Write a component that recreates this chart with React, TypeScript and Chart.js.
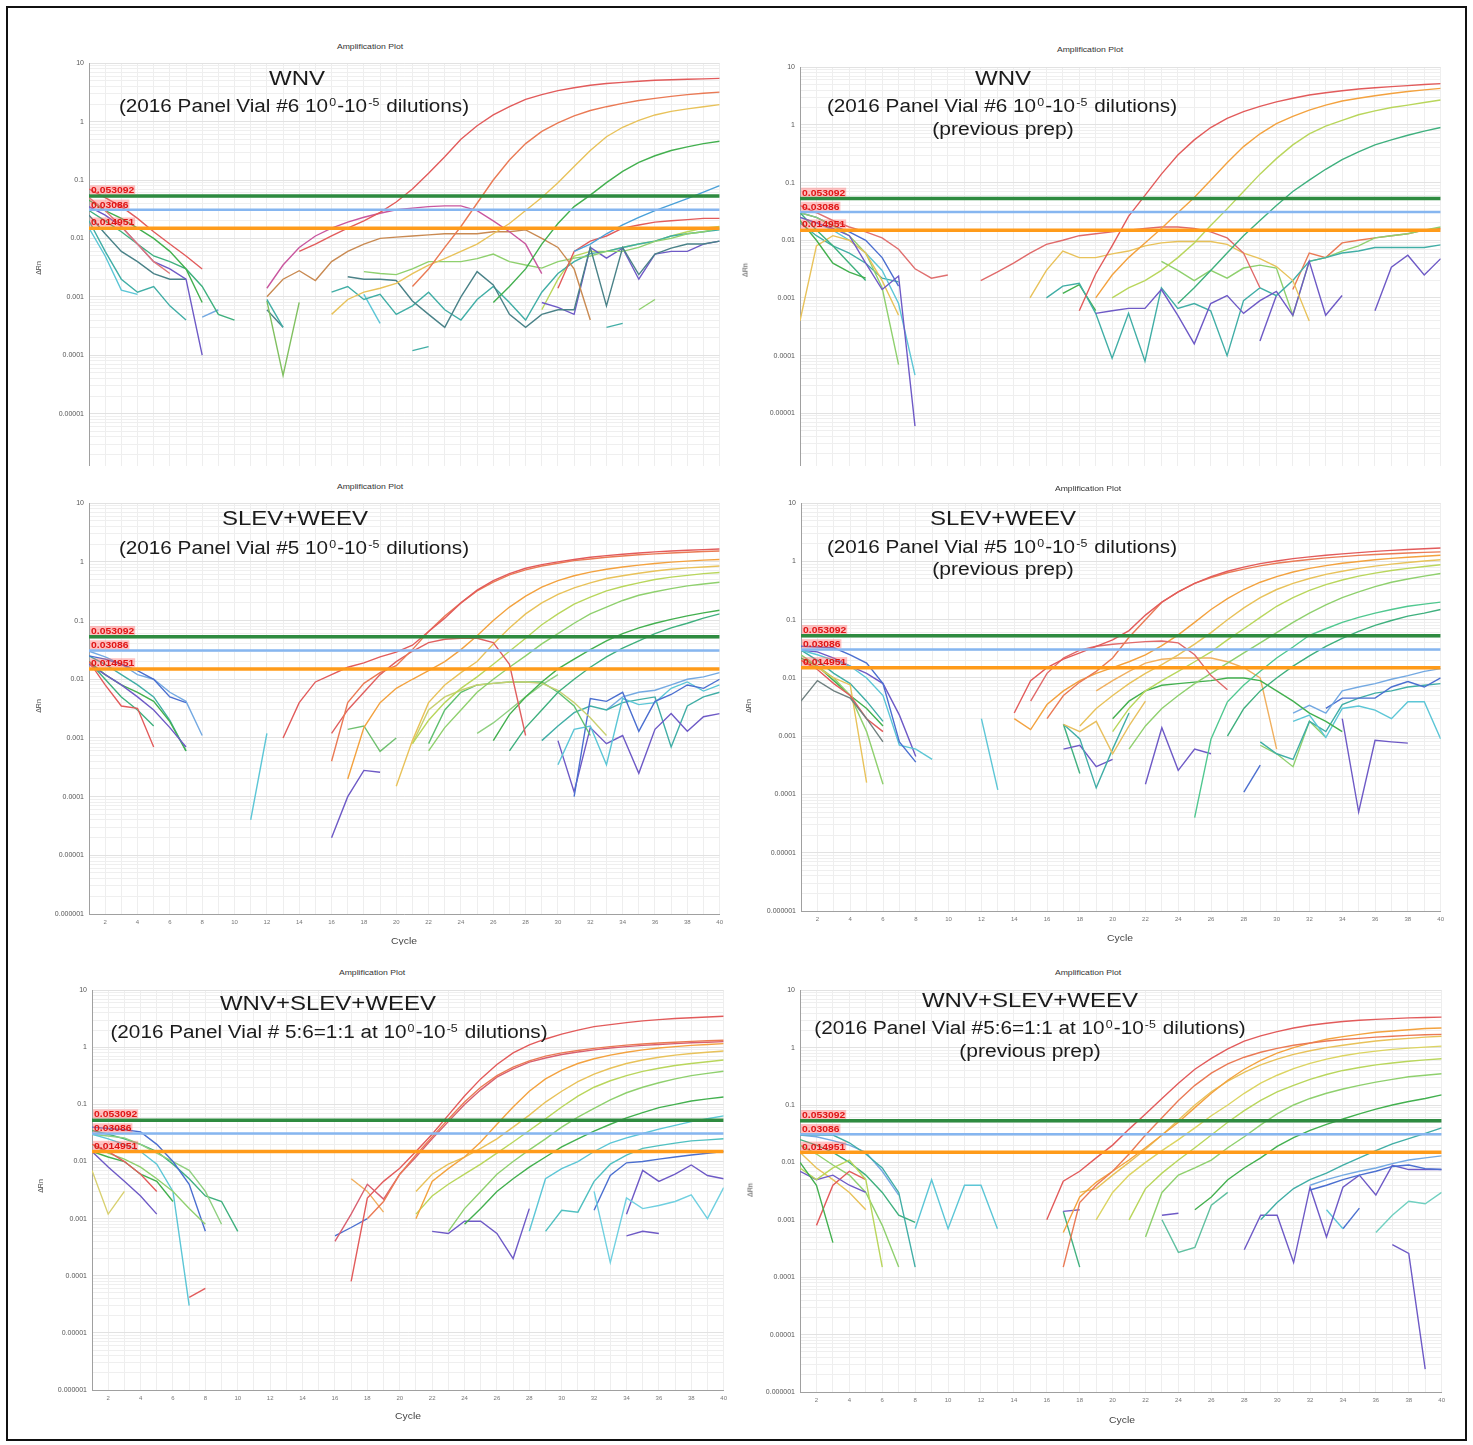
import React, { useEffect, useRef } from 'react';
import { Chart, registerables } from 'chart.js';

Chart.register(...registerables);

const FONT = '"Liberation Sans", Arial, Helvetica, sans-serif';
Chart.defaults.font.family = FONT;

// ---------- axis data ----------
const CYCLE_MIN = 1;
const CYCLE_MAX = 40;
const X_TICK_LABELS = [2, 4, 6, 8, 10, 12, 14, 16, 18, 20, 22, 24, 26, 28, 30, 32, 34, 36, 38, 40];
const Y_TICK_VALUES = [10, 1, 0.1, 0.01, 0.001, 0.0001, 0.00001, 0.000001];
const Y_TICK_LABELS = ['10', '1', '0.1', '0.01', '0.001', '0.0001', '0.00001', '0.000001'];
const THRESHOLDS = [0.053092, 0.03086, 0.014951];
const THRESHOLD_LABELS = ['0.053092', '0.03086', '0.014951'];

// ---------- text ----------
const PLOT_TITLE = 'Amplification Plot';
const PANEL_TITLES = ['WNV', 'WNV', 'SLEV+WEEV', 'SLEV+WEEV', 'WNV+SLEV+WEEV', 'WNV+SLEV+WEEV'];
const PANEL_SUB_PREFIX = [
  '(2016 Panel Vial #6 10',
  '(2016 Panel Vial #6 10',
  '(2016 Panel Vial #5 10',
  '(2016 Panel Vial #5 10',
  '(2016 Panel Vial # 5:6=1:1 at 10',
  '(2016 Panel Vial #5:6=1:1 at 10',
];
const PANEL_PREV = [false, true, false, true, false, true];

// ---------- colours (style) ----------
const RED = '#e25b5b', RED2 = '#ea7a55', PINK = '#c9579f', ORANGE = '#f3a23f', GOLD = '#e8c25a',
  YEL = '#dcd462', YG = '#b9d65c', LG = '#8fd06e', GRN = '#43b04f', SEA = '#3fb07e', TEAL = '#41aea6',
  CYAN = '#5cc6d6', LBLUE = '#74a9e2', BLUE = '#4b6fd0', PURP = '#6e5ac6', SLATE = '#4a8288', BROWN = '#c98a52';
const TH_COLORS = ['#2e8b40', '#86b6f0', '#ff9b1a'];
const TH_WIDTHS = [3.5, 2.5, 3.5];

// ---------- panel 1 : WNV ----------
const P1_STARTS = [14, 21, 16, 26, 31, 12, 12, 30, 17, 18, 29, 16, 29, 1, 1, 1, 1, 1, 1, 1, 1, 12, 12, 12, 21, 18, 35, 33, 8];
const P1_VALUES: (number | null)[][] = [
  [0.006, 0.008, 0.011, 0.015, 0.02, 0.028, 0.042, 0.07, 0.13, 0.25, 0.5, 0.85, 1.3, 1.8, 2.4, 2.9, 3.4, 3.8, 4.2, 4.5, 4.7, 4.9, 5.1, 5.2, 5.3, 5.4, 5.5],
  [0.0015, 0.003, 0.007, 0.016, 0.04, 0.1, 0.22, 0.42, 0.68, 0.95, 1.25, 1.55, 1.8, 2.05, 2.3, 2.5, 2.7, 2.9, 3.05, 3.2],
  [0.0005, 0.0009, 0.0012, 0.0014, 0.0017, 0.0025, 0.0035, 0.0045, 0.006, 0.008, 0.012, 0.018, 0.03, 0.05, 0.09, 0.17, 0.32, 0.55, 0.8, 1.05, 1.3, 1.5, 1.65, 1.8, 1.95],
  [0.0008, 0.0015, 0.003, 0.008, 0.018, 0.035, 0.055, 0.09, 0.14, 0.2, 0.26, 0.32, 0.37, 0.42, 0.46],
  [0.006, 0.008, 0.012, 0.017, 0.023, 0.03, 0.038, 0.048, 0.062, 0.08],
  [0.0014, 0.0035, 0.007, 0.011, 0.015, 0.019, 0.023, 0.027, 0.031, 0.033, 0.035, 0.036, 0.036, 0.03, 0.02, 0.013, 0.008, 0.0025],
  [0.001, 0.002, 0.0028, 0.0019, 0.004, 0.006, 0.008, 0.01, 0.0105, 0.011, 0.0115, 0.012, 0.012, 0.012, 0.013, 0.013, 0.014, 0.01, 0.007, 0.003, 0.0004],
  [0.0014, 0.006, 0.009, 0.011, 0.015, 0.017, 0.019, 0.02, 0.021, 0.022, 0.022],
  [0.0022, 0.002, 0.002, 0.0019, 0.00085, 0.0005, 0.0003, 0.001, 0.0027, 0.0016, 0.0005, 0.0003, 0.0005, 0.0006, 0.0006, 0.007, 0.0007, 0.007, 0.0024, 0.0054, 0.0068, 0.008, 0.008, 0.009],
  [0.0027, 0.0025, 0.0024, 0.003, 0.004, 0.004, 0.004, 0.0045, 0.0054, 0.004, 0.0035, 0.0031, 0.004, 0.0046, 0.005, 0.006, 0.006, 0.007, 0.0089, 0.01, 0.012, 0.013, 0.015],
  [0.0008, 0.00066, 0.0005, 0.007, 0.0046, 0.0068, 0.002, 0.0054, 0.006, 0.006, 0.008, 0.009],
  [0.0012, 0.0015, 0.0009, 0.0011, 0.0005, 0.0007, 0.0012, 0.0006, 0.0004, 0.0009, 0.0015, 0.0008, 0.0004, 0.0012, 0.0025, 0.004, 0.0055, 0.006, 0.007, 0.008, 0.009, 0.011, 0.012, 0.013, 0.014],
  [0.0006, 0.002, 0.005, 0.006, 0.006, 0.007, 0.008, 0.009, 0.011, 0.013, 0.015, 0.016],
  [0.07, 0.05, 0.035, 0.022, 0.013, 0.008, 0.005, 0.003],
  [0.05, 0.03, 0.016, 0.008, 0.004, 0.0025],
  [0.035, 0.025, 0.016, 0.008, 0.004, 0.003, 0.002, 0.0001],
  [0.045, 0.03, 0.022, 0.015, 0.01, 0.006, 0.003, 0.0008],
  [0.02, 0.006, 0.002, 0.0012, 0.0015, 0.0007, 0.0004],
  [0.015, 0.005, 0.0013, 0.0011],
  [0.03, 0.02, 0.013, 0.008, 0.005, 0.004, 0.003, 0.0015, 0.0005, 0.0004],
  [0.025, 0.012, 0.006, 0.004, 0.0025, 0.002, 0.002],
  [0.0009, 0.0003],
  [0.00085, 0.000045, 0.0008],
  [0.0006, 0.0003],
  [0.00012, 0.00014],
  [0.0011, 0.00035],
  [0.0006, 0.0009],
  [0.0003, 0.00035],
  [0.00045, 0.0006],
];
const P1_COLORS = [RED, RED2, GOLD, GRN, '#4aa0d8', PINK, BROWN, RED, SLATE, LG, PURP, TEAL, YG, RED, '#e07878', PURP, GRN, TEAL, CYAN, SEA, SLATE, TEAL, '#80c060', SLATE, TEAL, CYAN, LG, TEAL, LBLUE];

// ---------- panel 2 : WNV previous prep ----------
const P2_STARTS = [18, 19, 20, 24, 12, 15, 19, 16, 23, 31, 1, 1, 1, 1, 1, 1, 1, 1, 1, 17, 29];
const P2_VALUES: (number | null)[][] = [
  [0.0006, 0.0026, 0.008, 0.026, 0.06, 0.14, 0.3, 0.55, 0.9, 1.3, 1.7, 2.1, 2.5, 2.9, 3.3, 3.6, 3.9, 4.2, 4.4, 4.6, 4.8, 5.0, 5.2],
  [0.001, 0.0025, 0.005, 0.009, 0.016, 0.03, 0.055, 0.11, 0.22, 0.42, 0.7, 1.05, 1.4, 1.8, 2.2, 2.6, 2.9, 3.2, 3.5, 3.8, 4.05, 4.3],
  [0.001, 0.0015, 0.002, 0.003, 0.005, 0.009, 0.018, 0.035, 0.07, 0.14, 0.26, 0.45, 0.7, 0.95, 1.2, 1.5, 1.75, 2.0, 2.2, 2.45, 2.7],
  [0.0008, 0.0015, 0.003, 0.006, 0.012, 0.022, 0.04, 0.07, 0.11, 0.17, 0.25, 0.34, 0.45, 0.55, 0.66, 0.78, 0.9],
  [0.002, 0.0028, 0.004, 0.006, 0.0085, 0.01, 0.012, 0.013, 0.014, 0.015, 0.016, 0.017, 0.017, 0.016, 0.014, 0.011, 0.006, 0.0015],
  [0.001, 0.003, 0.0065, 0.005, 0.005, 0.0058, 0.0065, 0.008, 0.009, 0.0095, 0.0095, 0.0095, 0.0085, 0.006, 0.0048, 0.0035, 0.002, 0.0004],
  [0.00054, 0.0006, 0.00066, 0.00066, 0.0014, 0.0005, 0.00016, 0.0008, 0.0011, 0.00054, 0.0009, 0.0013, 0.0005, 0.0043, 0.0005, 0.0011, null, 0.0006, 0.0034, 0.0055, 0.0025, 0.0048],
  [0.001, 0.0016, 0.0018, 0.00054, 0.00009, 0.00054, 0.00008, 0.0015, 0.00066, 0.0008, 0.0006, 0.0001, 0.0009, 0.0015, 0.0011, 0.002, 0.0043, 0.005, 0.006, 0.0065, 0.0075, 0.0075, 0.0075, 0.0075, 0.0083],
  [0.0043, 0.003, 0.002, 0.003, 0.0022, 0.0033, 0.0037, 0.0033, 0.0005, 0.0043, 0.005, 0.0065, 0.008, 0.011, 0.012, 0.013, 0.015, 0.017],
  [0.0014, 0.006, 0.005, 0.009, 0.01, 0.011, 0.012, 0.013, 0.015, 0.016],
  [0.04, 0.03, 0.022, 0.017, 0.014, 0.011, 0.007, 0.0032, 0.0022, 0.0025],
  [0.025, 0.02, 0.016, 0.012, 0.004, 0.0014, 0.0024, 0.000006],
  [0.022, 0.01, 0.004, 0.0028, 0.0022],
  [0.03, 0.015, 0.008, 0.004, 0.002],
  [0.0004, 0.008, 0.012, 0.01, 0.006, 0.002, 0.0005],
  [0.03, 0.025, 0.018, 0.012, 0.006, 0.0015, 0.00007],
  [0.025, 0.02, 0.015, 0.01, 0.006, 0.003, 0.0008, 0.000046],
  [0.03, 0.025, 0.018, 0.014, 0.01, 0.005, 0.0016],
  [0.02, 0.012, 0.008, 0.006, 0.004, 0.0022, 0.0019],
  [0.0012, 0.0017, 0.0006],
  [0.00018, 0.0011],
];
const P2_COLORS = [RED, ORANGE, YG, SEA, '#e06a6a', GOLD, PURP, TEAL, LG, RED2, '#e07070', PURP, GRN, SEA, GOLD, LG, CYAN, BLUE, TEAL, GRN, PURP];

// ---------- panel 3 : SLEV+WEEV ----------
const P3_STARTS = [13, 16, 16, 17, 20, 21, 22, 26, 27, 21, 22, 11, 16, 17, 31, 30, 30, 29, 33, 1, 1, 1, 1, 1, 1, 1, 25];
const P3_VALUES: (number | null)[][] = [
  [0.001, 0.004, 0.009, 0.012, 0.016, 0.019, 0.024, 0.029, 0.038, 0.065, 0.11, 0.2, 0.33, 0.48, 0.63, 0.78, 0.9, 1.0, 1.1, 1.2, 1.28, 1.35, 1.42, 1.48, 1.53, 1.58, 1.62, 1.66],
  [0.0004, 0.004, 0.0085, 0.013, 0.017, 0.032, 0.065, 0.12, 0.2, 0.32, 0.45, 0.6, 0.73, 0.85, 0.95, 1.05, 1.12, 1.2, 1.26, 1.32, 1.37, 1.42, 1.46, 1.5, 1.53],
  [0.0012, 0.003, 0.006, 0.012, 0.02, 0.03, 0.042, 0.048, 0.05, 0.05, 0.042, 0.018, 0.0011],
  [0.0002, 0.0015, 0.004, 0.007, 0.01, 0.014, 0.02, 0.032, 0.055, 0.1, 0.17, 0.26, 0.37, 0.48, 0.58, 0.67, 0.75, 0.82, 0.88, 0.94, 0.99, 1.03, 1.07, 1.1],
  [0.00015, 0.0009, 0.004, 0.008, 0.013, 0.02, 0.04, 0.075, 0.13, 0.2, 0.28, 0.36, 0.44, 0.52, 0.58, 0.64, 0.7, 0.75, 0.79, 0.82, 0.85],
  [0.0008, 0.002, 0.004, 0.007, 0.011, 0.018, 0.03, 0.05, 0.085, 0.13, 0.19, 0.25, 0.32, 0.38, 0.44, 0.5, 0.55, 0.59, 0.63, 0.66],
  [0.0006, 0.0015, 0.003, 0.006, 0.01, 0.016, 0.025, 0.04, 0.06, 0.09, 0.13, 0.17, 0.22, 0.27, 0.31, 0.35, 0.39, 0.42, 0.45],
  [0.0009, 0.0025, 0.005, 0.009, 0.015, 0.022, 0.032, 0.045, 0.06, 0.075, 0.09, 0.105, 0.12, 0.135, 0.15],
  [0.0006, 0.0015, 0.003, 0.006, 0.01, 0.016, 0.024, 0.034, 0.045, 0.06, 0.075, 0.09, 0.11, 0.13],
  [0.0008, 0.003, 0.005, 0.0065, 0.008, 0.0085, 0.009, 0.009, 0.0085, 0.0065, 0.004, 0.0022, 0.0011],
  [0.0008, 0.003, 0.006, 0.008, 0.0085, 0.009, 0.009, 0.009, 0.006, 0.0035, 0.0011],
  [0.00004, 0.0012],
  [0.00002, 0.0001, 0.00028, 0.00026],
  [0.0014, 0.0016, 0.00059, 0.001],
  [0.0001, 0.0047, 0.0042, 0.006, 0.0013, 0.0042, 0.0055, 0.008, 0.007, 0.01],
  [0.00035, 0.0014, 0.0016, 0.00035, 0.0047, 0.0037, 0.004, 0.007, 0.009, 0.0063, 0.008],
  [0.0009, 0.00012, 0.0015, 0.0008, 0.0011, 0.00025, 0.0014, 0.0026, 0.0013, 0.0023, 0.0026],
  [0.0009, 0.0016, 0.0027, 0.0035, 0.003, 0.004, 0.0045, 0.005, 0.0007, 0.0035, 0.005, 0.006],
  [0.003, 0.005, 0.006, 0.0065, 0.008, 0.01, 0.011, 0.013],
  [0.02, 0.008, 0.0035, 0.0032, 0.0007],
  [0.018, 0.012, 0.008, 0.005, 0.003, 0.0015, 0.0007],
  [0.025, 0.022, 0.018, 0.014, 0.01, 0.005, 0.004],
  [0.02, 0.012, 0.008, 0.006, 0.0042, 0.0019, 0.0006],
  [0.02, 0.01, 0.005, 0.003, 0.0016],
  [0.03, 0.024, 0.018, 0.012, 0.01, 0.006, 0.0042, 0.0011],
  [0.025, 0.018, 0.012, 0.008, 0.005, 0.002, 0.0006],
  [0.0012, 0.0018, 0.003, 0.005, 0.008, 0.012],
];
const P3_COLORS = [RED, RED2, '#e06060', ORANGE, GOLD, YG, LG, GRN, SEA, '#c8d070', '#60c070', CYAN, PURP, '#70c070', BLUE, CYAN, PURP, TEAL, LBLUE, RED, PURP, BLUE, GRN, SEA, LBLUE, TEAL, '#90d080'];

// ---------- panel 4 : SLEV+WEEV previous prep ----------
const P4_STARTS = [14, 16, 15, 14, 18, 20, 21, 25, 27, 20, 19, 17, 17, 22, 34, 28, 31, 33, 31, 29, 12, 1, 1, 1, 1, 1, 1, 1, 1, 1, 17, 17, 29];
const P4_VALUES: (number | null)[][] = [
  [0.0025, 0.009, 0.015, 0.021, 0.027, 0.035, 0.045, 0.065, 0.12, 0.2, 0.3, 0.42, 0.55, 0.68, 0.8, 0.92, 1.02, 1.12, 1.2, 1.28, 1.35, 1.42, 1.49, 1.55, 1.6, 1.65, 1.7],
  [0.002, 0.005, 0.0085, 0.013, 0.022, 0.05, 0.1, 0.2, 0.3, 0.42, 0.53, 0.64, 0.74, 0.84, 0.93, 1.01, 1.08, 1.15, 1.21, 1.27, 1.32, 1.36, 1.4, 1.43, 1.46],
  [0.004, 0.012, 0.022, 0.03, 0.035, 0.038, 0.04, 0.042, 0.043, 0.04, 0.025, 0.011, 0.0063],
  [0.002, 0.0013, 0.0035, 0.006, 0.009, 0.012, 0.015, 0.019, 0.025, 0.036, 0.055, 0.09, 0.15, 0.23, 0.33, 0.44, 0.55, 0.66, 0.76, 0.85, 0.93, 1.0, 1.07, 1.13, 1.18, 1.23, 1.28],
  [0.0015, 0.003, 0.005, 0.008, 0.012, 0.017, 0.025, 0.038, 0.06, 0.1, 0.16, 0.24, 0.33, 0.42, 0.51, 0.6, 0.68, 0.76, 0.83, 0.9, 0.96, 1.02, 1.07],
  [0.0012, 0.003, 0.006, 0.009, 0.013, 0.019, 0.028, 0.045, 0.07, 0.11, 0.17, 0.24, 0.32, 0.4, 0.48, 0.56, 0.63, 0.7, 0.76, 0.82, 0.88],
  [0.0006, 0.0015, 0.003, 0.005, 0.008, 0.012, 0.018, 0.027, 0.04, 0.06, 0.09, 0.13, 0.18, 0.24, 0.3, 0.37, 0.44, 0.5, 0.56, 0.62],
  [0.00004, 0.0009, 0.0039, 0.0076, 0.013, 0.022, 0.034, 0.054, 0.07, 0.09, 0.11, 0.13, 0.15, 0.17, 0.185, 0.2],
  [0.001, 0.003, 0.006, 0.01, 0.016, 0.024, 0.035, 0.048, 0.063, 0.08, 0.097, 0.115, 0.13, 0.15],
  [0.002, 0.004, 0.006, 0.0075, 0.008, 0.0085, 0.009, 0.01, 0.01, 0.009, 0.006, 0.004, 0.0025, 0.0018, 0.0012],
  [0.006, 0.009, 0.013, 0.018, 0.021, 0.022, 0.022, 0.022, 0.019, 0.015, 0.01, 0.0006],
  [0.0016, 0.0012, 0.0018, 0.0005, 0.0015, 0.004],
  [0.0016, 0.0009, 0.00013, 0.0006, 0.0025],
  [0.00015, 0.0014, 0.00026, 0.0006, 0.0005],
  [0.002, 0.00005, 0.00085, 0.0008, 0.00076],
  [0.00011, 0.00032],
  [0.0025, 0.0034, 0.0025, 0.006, 0.007, 0.008, 0.0095, 0.011, 0.013, 0.0145],
  [0.003, 0.0045, 0.0045, 0.0045, 0.007, 0.0087, 0.007, 0.01],
  [0.0018, 0.0023, 0.00095, 0.003, 0.0033, 0.0028, 0.002, 0.0039, 0.0039, 0.0009],
  [0.0008, 0.0005, 0.0004, 0.0018, 0.0012, 0.0035, 0.0045, 0.0055, 0.006, 0.007, 0.0075, 0.008],
  [0.002, 0.00012],
  [0.004, 0.009, 0.006, 0.0045, 0.002, 0.0008],
  [0.02, 0.014, 0.008, 0.005, 0.002, 0.0012],
  [0.02, 0.015, 0.01, 0.0076, 0.00016],
  [0.025, 0.016, 0.01, 0.005, 0.0012, 0.00015],
  [0.035, 0.034, 0.033, 0.025, 0.018, 0.008, 0.0008, 0.00036],
  [0.03, 0.025, 0.02, 0.016, 0.01, 0.005, 0.0007, 0.0006, 0.0004],
  [0.03, 0.028, 0.022, 0.016, 0.012, 0.008, 0.0023, 0.00045],
  [0.022, 0.016, 0.009, 0.005, 0.003, 0.0015],
  [0.03, 0.02, 0.012, 0.008, 0.004, 0.0018],
  [0.0006, 0.0007, 0.0003, 0.0004],
  [0.0016, 0.00023],
  [0.0007, 0.0005, 0.0003, 0.0018, 0.00095],
];
const P4_COLORS = [RED, RED2, '#e06a6a', ORANGE, GOLD, YG, LG, '#50c890', SEA, GRN, '#f0b060', '#e8c060', TEAL, PURP, PURP, BLUE, LBLUE, BLUE, CYAN, TEAL, CYAN, '#708080', RED, GOLD, LG, BLUE, CYAN, PURP, GRN, TEAL, PURP, SEA, LG];

// ---------- panel 5 : WNV+SLEV+WEEV ----------
const P5_STARTS = [17, 18, 16, 21, 21, 21, 23, 24, 28, 29, 32, 32, 34, 34, 22, 16, 17, 1, 1, 1, 1, 1, 1, 1, 1, 1, 7];
const P5_VALUES: (number | null)[][] = [
  [0.00008, 0.0023, 0.0045, 0.0076, 0.015, 0.03, 0.065, 0.14, 0.28, 0.5, 0.8, 1.1, 1.4, 1.7, 2.0, 2.3, 2.5, 2.7, 2.9, 3.05, 3.2, 3.3, 3.4, 3.5],
  [0.001, 0.002, 0.006, 0.013, 0.027, 0.055, 0.11, 0.2, 0.32, 0.45, 0.58, 0.7, 0.8, 0.88, 0.96, 1.03, 1.09, 1.14, 1.19, 1.23, 1.27, 1.3, 1.33],
  [0.0004, 0.0012, 0.004, 0.0022, 0.006, 0.012, 0.025, 0.05, 0.1, 0.18, 0.3, 0.42, 0.55, 0.65, 0.75, 0.83, 0.9, 0.97, 1.03, 1.08, 1.12, 1.16, 1.2, 1.23, 1.26],
  [0.001, 0.0045, 0.0075, 0.012, 0.022, 0.045, 0.09, 0.17, 0.28, 0.4, 0.52, 0.63, 0.73, 0.82, 0.9, 0.97, 1.03, 1.08, 1.12, 1.16],
  [0.003, 0.006, 0.009, 0.012, 0.017, 0.025, 0.04, 0.065, 0.11, 0.17, 0.25, 0.34, 0.43, 0.52, 0.6, 0.67, 0.73, 0.78, 0.82, 0.86],
  [0.0012, 0.0025, 0.004, 0.006, 0.009, 0.014, 0.022, 0.035, 0.056, 0.09, 0.14, 0.2, 0.26, 0.32, 0.38, 0.43, 0.48, 0.52, 0.56, 0.6],
  [0.0006, 0.0015, 0.003, 0.006, 0.01, 0.016, 0.025, 0.04, 0.06, 0.085, 0.12, 0.16, 0.2, 0.24, 0.28, 0.32, 0.35, 0.38],
  [0.0008, 0.0015, 0.003, 0.005, 0.008, 0.012, 0.018, 0.025, 0.034, 0.045, 0.058, 0.072, 0.088, 0.1, 0.115, 0.125, 0.135],
  [0.0006, 0.005, 0.0075, 0.01, 0.015, 0.021, 0.026, 0.031, 0.037, 0.043, 0.05, 0.056, 0.063],
  [0.0006, 0.0014, 0.0013, 0.0045, 0.009, 0.013, 0.017, 0.019, 0.021, 0.023, 0.024, 0.025],
  [0.003, 0.00017, 0.0023, 0.0015, 0.0017, 0.002, 0.0026, 0.001, 0.0035],
  [0.0014, 0.0057, 0.0095, 0.01, 0.011, 0.012, 0.013, 0.014, 0.015],
  [0.0012, 0.007, 0.0045, 0.006, 0.0087, 0.0057, 0.005],
  [0.0005, 0.0006, 0.00055],
  [0.0006, 0.00055, 0.0009, 0.0009, 0.00055, 0.0002, 0.0015],
  [0.0005, 0.0007, 0.001],
  [0.005, 0.003, 0.0013],
  [0.007, 0.0012, 0.003],
  [0.015, 0.008, 0.0045, 0.0025, 0.0012],
  [0.02, 0.015, 0.01, 0.006, 0.003],
  [0.015, 0.012, 0.01, 0.006, 0.0045, 0.002],
  [0.02, 0.014, 0.011, 0.008, 0.005, 0.003, 0.0015, 0.0008],
  [0.04, 0.038, 0.036, 0.033, 0.02, 0.01, 0.004, 0.0006],
  [0.03, 0.025, 0.02, 0.015, 0.009, 0.003, 0.00003],
  [0.03, 0.028, 0.026, 0.02, 0.014, 0.01, 0.007, 0.003, 0.0008],
  [0.035, 0.03, 0.025, 0.02, 0.015, 0.009, 0.005, 0.0025, 0.002, 0.0006],
  [0.000042, 0.00006],
];
const P5_COLORS = [RED, RED2, '#d86070', ORANGE, GOLD, YG, LG, GRN, CYAN, '#50c0c0', '#70d0e0', BLUE, PURP, PURP, PURP, BLUE, '#f0b060', '#d8d070', PURP, RED, GRN, LG, BLUE, CYAN, '#90d080', SEA, RED];

// ---------- panel 6 : WNV+SLEV+WEEV previous prep ----------
const P6_STARTS = [16, 17, 17, 18, 19, 21, 22, 25, 29, 36, 37, 32, 32, 28, 33, 34, 23, 17, 8, 23, 17, 1, 1, 1, 2, 1, 1, 1, 1, 1];
const P6_VALUES: (number | null)[][] = [
  [0.001, 0.0047, 0.007, 0.012, 0.02, 0.038, 0.07, 0.13, 0.24, 0.42, 0.65, 0.95, 1.3, 1.6, 1.9, 2.2, 2.45, 2.65, 2.85, 3.0, 3.1, 3.2, 3.3, 3.35, 3.4],
  [0.00015, 0.002, 0.004, 0.007, 0.014, 0.03, 0.06, 0.12, 0.22, 0.36, 0.52, 0.68, 0.83, 0.97, 1.1, 1.2, 1.3, 1.38, 1.45, 1.52, 1.58, 1.63, 1.67, 1.7],
  [0.0006, 0.0025, 0.0045, 0.007, 0.011, 0.018, 0.03, 0.05, 0.09, 0.16, 0.27, 0.42, 0.6, 0.8, 1.0, 1.2, 1.4, 1.55, 1.7, 1.85, 1.95, 2.05, 2.15, 2.2],
  [0.003, 0.0035, 0.006, 0.01, 0.017, 0.03, 0.055, 0.1, 0.17, 0.26, 0.37, 0.5, 0.63, 0.76, 0.88, 1.0, 1.1, 1.2, 1.3, 1.38, 1.45, 1.52, 1.58],
  [0.001, 0.003, 0.006, 0.01, 0.016, 0.025, 0.04, 0.065, 0.1, 0.16, 0.24, 0.33, 0.43, 0.53, 0.63, 0.72, 0.8, 0.87, 0.93, 0.98, 1.02, 1.06],
  [0.001, 0.0035, 0.0065, 0.011, 0.018, 0.03, 0.05, 0.08, 0.12, 0.17, 0.22, 0.28, 0.34, 0.4, 0.45, 0.5, 0.54, 0.58, 0.61, 0.64],
  [0.0005, 0.003, 0.006, 0.008, 0.011, 0.018, 0.028, 0.045, 0.07, 0.1, 0.13, 0.16, 0.19, 0.22, 0.25, 0.28, 0.31, 0.33, 0.35],
  [0.0015, 0.0025, 0.005, 0.008, 0.012, 0.019, 0.027, 0.036, 0.046, 0.057, 0.07, 0.085, 0.1, 0.115, 0.13, 0.15],
  [0.001, 0.002, 0.0035, 0.005, 0.0065, 0.009, 0.012, 0.016, 0.021, 0.026, 0.032, 0.04],
  [0.0006, 0.0012, 0.0021, 0.0019, 0.003],
  [0.00037, 0.00026, 0.0000025],
  [0.0033, 0.004, 0.005, 0.006, 0.007, 0.0085, 0.009, 0.0078, 0.0075],
  [0.004, 0.005, 0.006, 0.007, 0.008, 0.0095, 0.011, 0.012, 0.013],
  [0.0003, 0.0012, 0.0012, 0.00018, 0.0037, 0.0005, 0.0037, 0.006, 0.0027, 0.0089, 0.0075, 0.0075, 0.0075],
  [0.0015, 0.0007],
  [0.0007, 0.0016],
  [0.0012, 0.0013],
  [0.0014, 0.0015],
  [0.0007, 0.005, 0.0007, 0.004, 0.004, 0.0007],
  [0.001, 0.00027, 0.00033, 0.0018, 0.003],
  [0.0014, 0.00015],
  [0.01, 0.004, 0.0004],
  [0.008, 0.005, 0.008, 0.011, 0.005, 0.00015],
  [0.007, 0.005, 0.006, 0.004, 0.003],
  [0.0008, 0.004, 0.007, 0.005],
  [0.03, 0.03, 0.03, 0.022, 0.014, 0.008, 0.003, 0.00015],
  [0.03, 0.028, 0.024, 0.02, 0.015, 0.007, 0.0027],
  [0.015, 0.008, 0.005, 0.003, 0.0015],
  [0.02, 0.014, 0.009, 0.006, 0.003, 0.0008, 0.00015],
  [0.025, 0.02, 0.015, 0.01, 0.006, 0.003, 0.0012, 0.0009],
];
const P6_COLORS = [RED, RED2, ORANGE, GOLD, YEL, YG, LG, GRN, TEAL, '#70d0c0', PURP, BLUE, LBLUE, PURP, CYAN, BLUE, PURP, PURP, CYAN, '#60c0a0', SEA, GRN, YG, PURP, RED, TEAL, LBLUE, GOLD, LG, SEA];

// ---------- layout ----------
type Layout = { L: number; R: number; T: number; B: number; clip?: number };
const PANEL_LAYOUT: Layout[] = [
  { L: 89, R: 720, T: 60, B: 472, clip: 466 },
  { L: 800, R: 1441, T: 64, B: 471, clip: 466 },
  { L: 89, R: 720, T: 500, B: 914 },
  { L: 801, R: 1441, T: 500, B: 911 },
  { L: 92, R: 724, T: 987, B: 1390 },
  { L: 800, R: 1442, T: 987, B: 1392 },
];
type TextLayout = {
  amp: [number, number]; dr: [number, number]; cyc: [number, number] | null; cycClip?: number;
  title: [number, number]; sub: [number, number]; prev: [number, number] | null;
};
const TEXT_LAYOUT: TextLayout[] = [
  { amp: [370, 47], dr: [38, 268], cyc: null, title: [297, 78], sub: [294, 106], prev: null },
  { amp: [1090, 50], dr: [745, 270], cyc: null, title: [1003, 78], sub: [1002, 106], prev: [1003, 129] },
  { amp: [370, 487], dr: [38, 706], cyc: [404, 941], cycClip: 945, title: [295, 518], sub: [294, 548], prev: null },
  { amp: [1088, 489], dr: [748, 706], cyc: [1120, 938], title: [1003, 518], sub: [1002, 547], prev: [1003, 569] },
  { amp: [372, 973], dr: [40, 1186], cyc: [408, 1416], title: [328, 1003], sub: [329, 1032], prev: null },
  { amp: [1088, 973], dr: [750, 1190], cyc: [1122, 1420], title: [1030, 1000], sub: [1030, 1028], prev: [1030, 1051] },
];

const YW = 56, XH = 24, PT = 6, PR = 8;

const thresholdLabelPlugin = {
  id: 'thresholdLabels',
  afterDatasetsDraw(chart: any) {
    const { ctx, chartArea, scales } = chart;
    const y = scales.y;
    ctx.save();
    ctx.font = `bold 9px ${FONT}`;
    ctx.textBaseline = 'alphabetic';
    ctx.textAlign = 'left';
    THRESHOLDS.forEach((t, i) => {
      const py = y.getPixelForValue(t) - TH_WIDTHS[i] / 2 - 1;
      const label = THRESHOLD_LABELS[i];
      const sx = 1.15;
      const w = ctx.measureText(label).width * sx;
      ctx.fillStyle = 'rgba(255,100,100,0.4)';
      ctx.fillRect(chartArea.left + 1, py - 8, w + 2, 9);
      ctx.save();
      ctx.translate(chartArea.left + 2, py);
      ctx.scale(sx, 1);
      ctx.fillStyle = '#e01515';
      ctx.fillText(label, 0, 0);
      ctx.restore();
    });
    ctx.restore();
  },
};

function LogPanel(props: { layout: Layout; starts: number[]; values: (number | null)[][]; colors: string[] }) {
  const { L, R, T, B, clip } = props.layout;
  const w = R - L + YW + PR;
  const h = B - T + PT + XH;
  const left = L - YW;
  const top = T - PT;
  const visH = clip ? Math.min(h, clip - top) : h;
  const ref = useRef<HTMLCanvasElement>(null);

  useEffect(() => {
    const datasets: any[] = [];
    THRESHOLDS.forEach((t, i) => {
      datasets.push({
        data: [{ x: CYCLE_MIN, y: t }, { x: CYCLE_MAX, y: t }],
        borderColor: TH_COLORS[i],
        borderWidth: TH_WIDTHS[i],
        pointRadius: 0,
      });
    });
    props.values.forEach((vals, i) => {
      datasets.push({
        data: vals.map((v, j) => ({ x: props.starts[i] + j, y: v })),
        borderColor: props.colors[i],
        borderWidth: 1.4,
        pointRadius: 0,
        spanGaps: false,
      });
    });
    const chart = new Chart(ref.current as HTMLCanvasElement, {
      type: 'line',
      data: { datasets },
      plugins: [thresholdLabelPlugin],
      options: {
        animation: false,
        responsive: false,
        devicePixelRatio: 1,
        layout: { padding: { top: PT, right: PR, left: 0, bottom: 0 }, autoPadding: false } as any,
        plugins: { legend: { display: false }, tooltip: { enabled: false }, title: { display: false } },
        scales: {
          x: {
            type: 'linear',
            min: CYCLE_MIN,
            max: CYCLE_MAX,
            afterFit: (s: any) => { s.height = XH; },
            afterBuildTicks: (s: any) => {
              const ticks = [];
              for (let c = CYCLE_MIN; c <= CYCLE_MAX; c++) ticks.push({ value: c });
              s.ticks = ticks;
            },
            ticks: {
              autoSkip: false,
              maxRotation: 0,
              padding: 5,
              font: { size: 6 },
              color: '#777',
              callback: (v: any) => (X_TICK_LABELS.includes(Number(v)) ? String(v) : ''),
            },
            grid: { color: '#eeeeee', drawTicks: false },
            border: { color: '#a0a0a0' },
          },
          y: {
            type: 'logarithmic',
            min: 0.000001,
            max: 10,
            afterFit: (s: any) => { s.width = YW; },
            afterBuildTicks: (s: any) => {
              const ticks = [];
              for (let e = -6; e <= 0; e++) {
                for (let m = 1; m <= 9; m++) ticks.push({ value: Number((m * Math.pow(10, e)).toPrecision(3)) });
              }
              ticks.push({ value: 10 });
              s.ticks = ticks;
            },
            ticks: {
              autoSkip: false,
              padding: 5,
              font: { size: 7 },
              color: '#555',
              callback: (v: any) => {
                const idx = Y_TICK_VALUES.findIndex((t) => Math.abs(Number(v) / t - 1) < 1e-6);
                return idx >= 0 ? Y_TICK_LABELS[idx] : '';
              },
            },
            grid: {
              color: (c: any) => {
                const v = c.tick ? c.tick.value : 0;
                return Y_TICK_VALUES.some((t) => Math.abs(v / t - 1) < 1e-6) ? '#e2e2e2' : '#efefef';
              },
              drawTicks: false,
            },
            border: { color: '#a0a0a0' },
          },
        },
      } as any,
    });
    return () => chart.destroy();
  }, []);

  return (
    <div style={{ position: 'absolute', left, top, width: w, height: visH, overflow: 'hidden' }}>
      <canvas ref={ref} width={w} height={h} style={{ display: 'block', width: w, height: h }} />
    </div>
  );
}

function CenterText(props: { x: number; y: number; size: number; sx: number; color?: string; children: any; rotate?: boolean }) {
  const tf = props.rotate
    ? `translate(-50%,-50%) rotate(-90deg) scaleX(${props.sx})`
    : `translate(-50%,-50%) scaleX(${props.sx})`;
  return (
    <div
      style={{
        position: 'absolute',
        left: props.x,
        top: props.y,
        transform: tf,
        whiteSpace: 'nowrap',
        fontFamily: FONT,
        fontSize: props.size,
        lineHeight: 1,
        color: props.color || '#1b1b1b',
      }}
    >
      {props.children}
    </div>
  );
}

const supStyle: React.CSSProperties = { fontSize: '0.6em', position: 'relative', top: '-0.6em', verticalAlign: 'baseline', margin: '0 1px' };

function PanelTexts(props: { i: number }) {
  const t = TEXT_LAYOUT[props.i];
  return (
    <>
      <CenterText x={t.amp[0]} y={t.amp[1]} size={7.5} sx={1.15} color="#333">{PLOT_TITLE}</CenterText>
      <CenterText x={t.dr[0]} y={t.dr[1]} size={7} sx={1} color="#444" rotate>ΔRn</CenterText>
      {t.cyc && (
        t.cycClip ? (
          <div style={{ position: 'absolute', left: 0, top: 0, width: 1473, height: t.cycClip, overflow: 'hidden' }}>
            <CenterText x={t.cyc[0]} y={t.cyc[1]} size={9} sx={1.15} color="#444">Cycle</CenterText>
          </div>
        ) : (
          <CenterText x={t.cyc[0]} y={t.cyc[1]} size={9} sx={1.15} color="#444">Cycle</CenterText>
        )
      )}
      <CenterText x={t.title[0]} y={t.title[1]} size={20} sx={1.2}>{PANEL_TITLES[props.i]}</CenterText>
      <CenterText x={t.sub[0]} y={t.sub[1]} size={18} sx={1.15}>
        {PANEL_SUB_PREFIX[props.i]}
        <span style={supStyle}>0</span>
        {'-10'}
        <span style={supStyle}>-5</span>
        {' dilutions)'}
      </CenterText>
      {PANEL_PREV[props.i] && t.prev && (
        <CenterText x={t.prev[0]} y={t.prev[1]} size={18} sx={1.17}>(previous prep)</CenterText>
      )}
    </>
  );
}

const PANELS = [
  { s: P1_STARTS, v: P1_VALUES, c: P1_COLORS },
  { s: P2_STARTS, v: P2_VALUES, c: P2_COLORS },
  { s: P3_STARTS, v: P3_VALUES, c: P3_COLORS },
  { s: P4_STARTS, v: P4_VALUES, c: P4_COLORS },
  { s: P5_STARTS, v: P5_VALUES, c: P5_COLORS },
  { s: P6_STARTS, v: P6_VALUES, c: P6_COLORS },
];

export default function App() {
  return (
    <div style={{ position: 'absolute', left: 0, top: 0, width: 1473, height: 1445, background: '#fff', overflow: 'hidden' }}>
      <div style={{ position: 'absolute', left: 6, top: 6, width: 1461, height: 1435, border: '2px solid #111', boxSizing: 'border-box' }} />
      {PANELS.map((p, i) => (
        <LogPanel key={i} layout={PANEL_LAYOUT[i]} starts={p.s} values={p.v} colors={p.c} />
      ))}
      {PANELS.map((_, i) => (
        <PanelTexts key={'t' + i} i={i} />
      ))}
    </div>
  );
}
